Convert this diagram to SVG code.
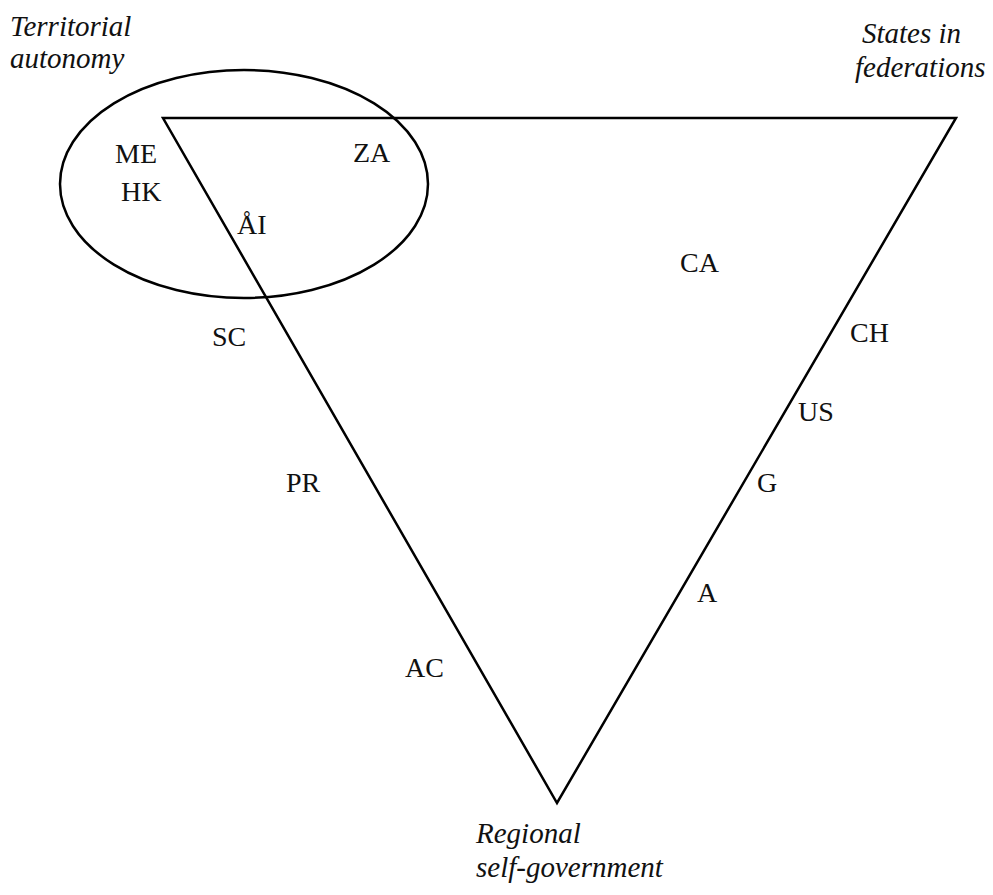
<svg xmlns="http://www.w3.org/2000/svg" width="993" height="895" viewBox="0 0 993 895">
<style>
.shape{fill:none;stroke:#000;stroke-width:2.5;stroke-linejoin:miter}
.lbl{font-family:"Liberation Serif",serif;font-size:28px;fill:#111}
.cat{font-family:"Liberation Serif",serif;font-style:italic;font-size:29px;fill:#111}
</style>
<rect width="993" height="895" fill="#fff"/>
<g id="connectors">
<polygon id="triangle" class="shape" points="163,118 956,118 557,803"/>
<ellipse id="autonomy-ellipse" class="shape" cx="244" cy="184" rx="184" ry="114"/>
</g>
<g id="cat-territorial"><text class="cat" x="10" y="36">Territorial</text><text class="cat" x="10" y="68">autonomy</text></g>
<g id="cat-states"><text class="cat" x="862" y="43">States in</text><text class="cat" x="855" y="77">federations</text></g>
<g id="cat-regional"><text class="cat" x="476" y="843">Regional</text><text class="cat" x="476" y="877">self-government</text></g>
<g id="n-ME"><text class="lbl" x="115" y="163">ME</text></g>
<g id="n-HK"><text class="lbl" x="121" y="201">HK</text></g>
<g id="n-ZA"><text class="lbl" x="353" y="162">ZA</text></g>
<g id="n-AI"><text class="lbl" x="237" y="234">ÅI</text></g>
<g id="n-CA"><text class="lbl" x="680" y="272">CA</text></g>
<g id="n-CH"><text class="lbl" x="850" y="342">CH</text></g>
<g id="n-US"><text class="lbl" x="798" y="421">US</text></g>
<g id="n-G"><text class="lbl" x="757" y="492">G</text></g>
<g id="n-A"><text class="lbl" x="697" y="602">A</text></g>
<g id="n-SC"><text class="lbl" x="212" y="346">SC</text></g>
<g id="n-PR"><text class="lbl" x="286" y="492">PR</text></g>
<g id="n-AC"><text class="lbl" x="405" y="677">AC</text></g>
</svg>
